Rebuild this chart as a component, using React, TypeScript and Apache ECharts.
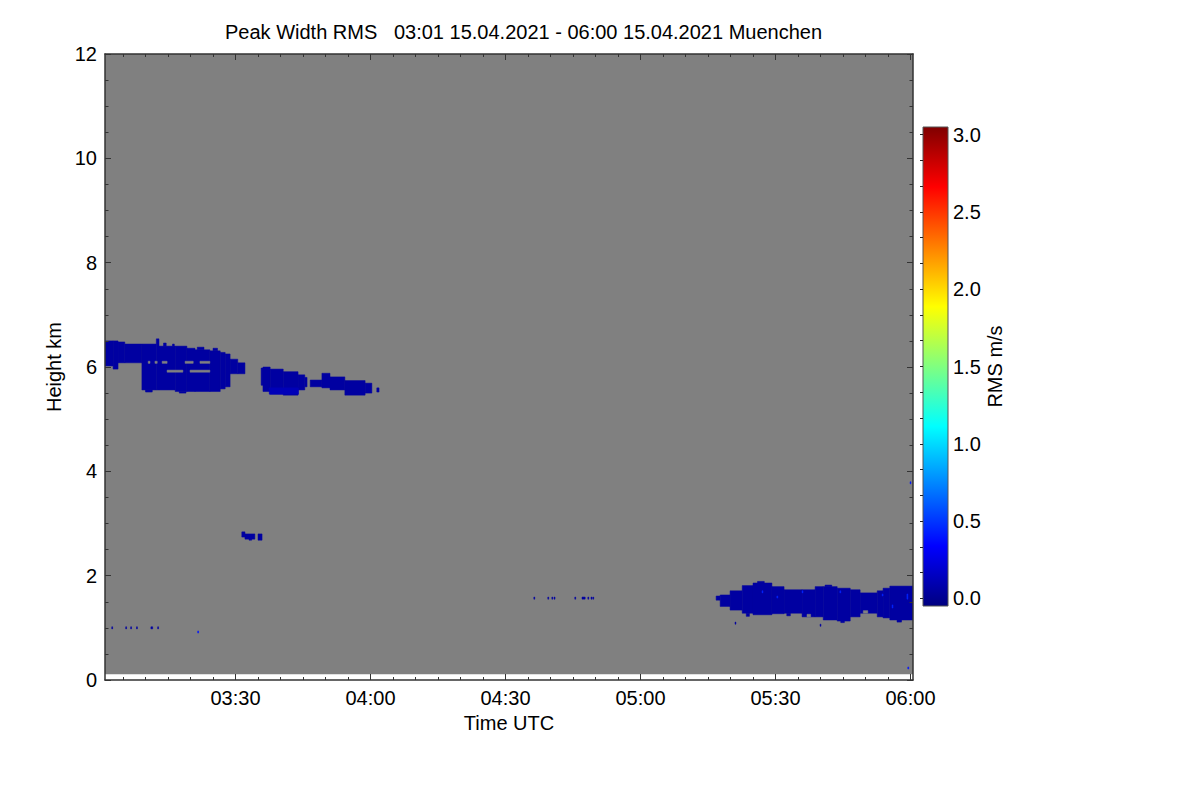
import React, { useEffect, useRef } from "react";
import * as echarts from "echarts";

// ---------- texts ----------
const chartTitle = "Peak Width RMS   03:01 15.04.2021 - 06:00 15.04.2021 Muenchen";
const xAxisTitle = "Time UTC";
const yAxisTitle = "Height km";
const colorbarTitle = "RMS m/s";

// ---------- axes (time in minutes since 00:00 UTC, height in km) ----------
const timeMin = 181; // 03:01
const timeMax = 360.55;
const timeMajorTicks = [210, 240, 270, 300, 330, 360];
const timeTickLabels = ["03:30", "04:00", "04:30", "05:00", "05:30", "06:00"];
const timeMinorTicks = [
  185, 190, 195, 200, 205, 215, 220, 225, 230, 235, 245, 250, 255, 260, 265,
  275, 280, 285, 290, 295, 305, 310, 315, 320, 325, 335, 340, 345, 350, 355,
];
const heightMin = 0;
const heightMax = 12;
const heightStep = 2;
const measuredBottom = 0.115;
const measuredTop = 12;

const rmsMin = -0.05;
const rmsMax = 3.05;
const rmsTicks = [0, 0.5, 1.0, 1.5, 2.0, 2.5, 3.0];
const rmsTickLabels = ["0.0", "0.5", "1.0", "1.5", "2.0", "2.5", "3.0"];
const rmsMinorTicks = [
  0.1667, 0.3333, 0.6667, 0.8333, 1.1667, 1.3333, 1.6667, 1.8333, 2.1667,
  2.3333, 2.6667, 2.8333,
];
const jetColors = [
  "#000080", "#0000ff", "#0080ff", "#00ffff", "#80ff80",
  "#ffff00", "#ff8000", "#ff0000", "#800000",
];

// ---------- data: [tStart, tEnd, heightBottom, heightTop, rms m/s] ----------
const cloudUpperLeft = [
  [181.0, 182.8, 6.02, 6.5, 0.05],
  [182.8, 183.9, 5.96, 6.5, 0.05],
  [183.9, 185.4, 6.08, 6.48, 0.05],
  [185.4, 189.2, 6.08, 6.44, 0.05],
  [189.2, 192.4, 5.56, 6.44, 0.05],
  [192.4, 193.0, 5.56, 6.54, 0.05],
  [193.0, 196.6, 5.56, 6.4, 0.05],
  [196.6, 199.2, 5.53, 6.4, 0.05],
  [199.2, 201.0, 5.53, 6.36, 0.05],
  [201.0, 204.3, 5.53, 6.33, 0.05],
  [204.3, 206.6, 5.53, 6.31, 0.05],
  [206.6, 207.7, 5.58, 6.28, 0.05],
  [207.7, 208.8, 5.62, 6.25, 0.05],
  [208.8, 210.5, 5.87, 6.15, 0.05],
  [210.5, 212.1, 5.87, 6.08, 0.05],
  [194.0, 194.6, 6.4, 6.46, 0.05],
  [196.0, 196.4, 6.4, 6.44, 0.05],
  [201.5, 203.0, 6.33, 6.38, 0.05],
  [205.0, 206.0, 6.31, 6.36, 0.05],
  [190.0, 191.5, 5.52, 5.56, 0.05],
  [197.5, 199.0, 5.5, 5.53, 0.05],
];
const cloudUpperMid = [
  [215.7, 216.1, 5.65, 5.98, 0.05],
  [216.1, 217.7, 5.53, 6.0, 0.05],
  [217.7, 220.6, 5.48, 5.96, 0.05],
  [220.6, 223.9, 5.46, 5.91, 0.05],
  [223.9, 225.4, 5.56, 5.85, 0.05],
  [225.4, 225.9, 5.62, 5.8, 0.05],
  [217.5, 224.0, 5.48, 5.6, 0.12],
];
const cloudUpperRight = [
  [226.6, 229.2, 5.62, 5.75, 0.05],
  [229.2, 231.0, 5.6, 5.88, 0.05],
  [231.0, 234.3, 5.56, 5.81, 0.05],
  [234.3, 238.8, 5.46, 5.74, 0.05],
  [238.8, 240.3, 5.5, 5.69, 0.05],
  [241.4, 241.9, 5.52, 5.6, 0.05],
];
const cloudSmall = [
  [211.4, 212.1, 2.74, 2.84, 0.05],
  [212.1, 214.3, 2.7, 2.8, 0.05],
  [213.0, 213.6, 2.68, 2.7, 0.05],
  [215.0, 215.9, 2.68, 2.8, 0.05],
];
const specksLow = [
  [182.5, 182.7, 0.98, 1.02, 0.05],
  [185.6, 185.8, 0.98, 1.02, 0.05],
  [186.7, 186.9, 0.98, 1.02, 0.05],
  [188.0, 188.2, 0.98, 1.02, 0.05],
  [191.2, 191.6, 0.98, 1.02, 0.05],
  [192.7, 192.9, 0.98, 1.02, 0.05],
  [201.6, 201.8, 0.9, 0.94, 0.4],
];
const specksMid = [
  [276.3, 276.5, 1.55, 1.59, 0.05],
  [279.4, 279.6, 1.55, 1.59, 0.05],
  [280.3, 280.5, 1.55, 1.59, 0.05],
  [280.8, 281.0, 1.55, 1.59, 0.05],
  [285.4, 285.6, 1.55, 1.59, 0.05],
  [287.0, 287.7, 1.55, 1.59, 0.05],
  [288.3, 288.5, 1.55, 1.59, 0.05],
  [289.0, 289.2, 1.55, 1.59, 0.05],
  [289.4, 289.6, 1.55, 1.59, 0.05],
];
const cloudLowRight = [
  [316.8, 317.7, 1.53, 1.61, 0.05],
  [317.7, 319.9, 1.41, 1.63, 0.05],
  [319.9, 322.6, 1.34, 1.71, 0.05],
  [322.6, 325.0, 1.28, 1.81, 0.05],
  [325.0, 329.2, 1.25, 1.86, 0.05],
  [329.2, 331.9, 1.27, 1.79, 0.05],
  [331.9, 335.9, 1.28, 1.73, 0.05],
  [335.9, 338.8, 1.21, 1.73, 0.05],
  [338.8, 340.6, 1.21, 1.79, 0.05],
  [340.6, 343.7, 1.15, 1.79, 0.05],
  [343.7, 346.6, 1.13, 1.76, 0.05],
  [346.6, 348.8, 1.21, 1.73, 0.05],
  [348.8, 352.6, 1.28, 1.67, 0.05],
  [352.6, 353.9, 1.21, 1.71, 0.05],
  [353.9, 355.4, 1.19, 1.76, 0.05],
  [355.4, 360.55, 1.15, 1.8, 0.05],
  [323.5, 324.2, 1.22, 1.28, 0.05],
  [332.5, 333.3, 1.23, 1.28, 0.05],
  [344.5, 345.3, 1.1, 1.13, 0.05],
  [357.0, 358.0, 1.11, 1.15, 0.05],
  [326.0, 327.5, 1.86, 1.89, 0.05],
  [341.0, 342.5, 1.79, 1.82, 0.05],
  [321.0, 321.2, 1.07, 1.11, 0.05],
  [339.9, 340.1, 1.03, 1.07, 0.05],
  [327.0, 327.2, 1.67, 1.71, 0.45],
  [335.9, 336.1, 1.67, 1.71, 0.45],
  [353.7, 353.9, 1.61, 1.65, 0.45],
  [355.9, 356.1, 1.38, 1.44, 0.45],
  [344.3, 344.5, 1.67, 1.71, 0.45],
  [330.3, 330.5, 1.57, 1.61, 0.45],
  [359.2, 359.4, 1.55, 1.65, 0.45],
  [359.4, 359.6, 0.21, 0.25, 0.4],
  [359.9, 360.1, 3.76, 3.8, 0.4],
];
// gaps (no signal) inside the clouds: [tStart, tEnd, hBottom, hTop]
const cloudGaps = [
  [190.6, 191.0, 6.07, 6.11],
  [192.1, 192.6, 6.07, 6.11],
  [193.7, 194.8, 6.07, 6.11],
  [198.8, 200.6, 6.07, 6.11],
  [202.1, 204.3, 6.07, 6.11],
  [194.8, 198.3, 5.9, 5.94],
  [199.9, 204.3, 5.9, 5.94],
  [337.0, 337.8, 1.21, 1.26],
  [349.5, 350.5, 1.28, 1.33],
];

const FONT = "'Liberation Sans', Arial, Helvetica, sans-serif";
const BG_GRAY = "#808080";
const AXIS_COLOR = "#333333";

function rectRenderer(fixedFill?: string) {
  return (params: any, api: any) => {
    const p0 = api.coord([api.value(0), api.value(3)]);
    const p1 = api.coord([api.value(1), api.value(2)]);
    const fill = fixedFill || api.visual("color");
    return {
      type: "rect",
      shape: { x: p0[0], y: p0[1], width: p1[0] - p0[0], height: p1[1] - p0[1] },
      style: { fill, stroke: fill, lineWidth: 0.5 },
    };
  };
}

function timeLabel(v: number) {
  const i = timeMajorTicks.indexOf(Math.round(v));
  return i >= 0 ? timeTickLabels[i] : "";
}
function rmsLabel(v: number) {
  let best = 0;
  rmsTicks.forEach((t, i) => {
    if (Math.abs(t - v) < Math.abs(rmsTicks[best] - v)) best = i;
  });
  return rmsTickLabels[best];
}

export default function App() {
  const ref = useRef<HTMLDivElement>(null);
  useEffect(() => {
    if (!ref.current) return;
    const chart = echarts.init(ref.current, null, { renderer: "svg" });
    const cells = [
      ...cloudUpperLeft,
      ...cloudUpperMid,
      ...cloudUpperRight,
      ...cloudSmall,
      ...specksLow,
      ...specksMid,
      ...cloudLowRight,
    ];
    const textBase = { fontFamily: FONT, fontSize: 20, color: "#000" };
    const tickStyle = { color: AXIS_COLOR, width: 1 };
    const option: any = {
      animation: false,
      backgroundColor: "#ffffff",
      textStyle: { fontFamily: FONT },
      title: {
        text: chartTitle,
        left: 225,
        top: 22,
        padding: 0,
        textStyle: { ...textBase, fontWeight: "normal" },
      },
      grid: [
        { left: 105, top: 54, width: 808, height: 626, containLabel: false },
        {
          left: 923,
          top: 127,
          width: 25,
          height: 479,
          show: true,
          backgroundColor: new echarts.graphic.LinearGradient(
            0, 1, 0, 0,
            jetColors.map((c, i) => ({ offset: i / (jetColors.length - 1), color: c }))
          ),
          borderColor: "#555",
          borderWidth: 1,
        },
      ],
      visualMap: {
        show: false,
        type: "continuous",
        seriesIndex: 1,
        dimension: 4,
        min: rmsMin,
        max: rmsMax,
        inRange: { color: jetColors },
      },
      xAxis: [
        {
          gridIndex: 0, type: "value", position: "bottom", min: timeMin, max: timeMax, z: 10,
          axisLine: { show: true, lineStyle: { color: AXIS_COLOR, width: 1.5 } },
          axisTick: { show: true, inside: true, length: 6, customValues: timeMajorTicks, lineStyle: tickStyle },
          axisLabel: { ...textBase, margin: 8, customValues: timeMajorTicks, formatter: timeLabel },
          splitLine: { show: false },
          name: xAxisTitle, nameLocation: "middle", nameGap: 27, nameTextStyle: textBase,
        },
        {
          gridIndex: 0, type: "value", position: "bottom", min: timeMin, max: timeMax, z: 10,
          axisLine: { show: false },
          axisTick: { show: true, inside: true, length: 3, customValues: timeMinorTicks, lineStyle: tickStyle },
          axisLabel: { show: false, customValues: timeMinorTicks },
          splitLine: { show: false },
        },
        {
          gridIndex: 0, type: "value", position: "top", min: timeMin, max: timeMax, z: 10,
          axisLine: { show: true, lineStyle: { color: AXIS_COLOR, width: 1.5 } },
          axisTick: { show: true, inside: true, length: 6, customValues: timeMajorTicks, lineStyle: tickStyle },
          axisLabel: { show: false, customValues: timeMajorTicks },
          splitLine: { show: false },
        },
        {
          gridIndex: 0, type: "value", position: "top", min: timeMin, max: timeMax, z: 10,
          axisLine: { show: false },
          axisTick: { show: true, inside: true, length: 3, customValues: timeMinorTicks, lineStyle: tickStyle },
          axisLabel: { show: false, customValues: timeMinorTicks },
          splitLine: { show: false },
        },
        { gridIndex: 1, type: "value", min: 0, max: 1, show: false },
      ],
      yAxis: [
        {
          gridIndex: 0, type: "value", position: "left", min: heightMin, max: heightMax, interval: heightStep, z: 10,
          axisLine: { show: true, lineStyle: { color: AXIS_COLOR, width: 1.5 } },
          axisTick: { show: true, inside: true, length: 6, lineStyle: tickStyle },
          minorTick: { show: true, splitNumber: 4, length: 3.5, lineStyle: tickStyle },
          axisLabel: { ...textBase, margin: 8 },
          splitLine: { show: false },
          minorSplitLine: { show: false },
          name: yAxisTitle, nameLocation: "middle", nameGap: 40, nameRotate: 90, nameTextStyle: textBase,
        },
        {
          gridIndex: 0, type: "value", position: "right", min: heightMin, max: heightMax, interval: heightStep, z: 10,
          axisLine: { show: true, lineStyle: { color: AXIS_COLOR, width: 1.5 } },
          axisTick: { show: true, inside: true, length: 6, lineStyle: tickStyle },
          minorTick: { show: true, splitNumber: 4, length: 3.5, lineStyle: tickStyle },
          axisLabel: { show: false },
          splitLine: { show: false },
        },
        {
          gridIndex: 1, type: "value", position: "right", min: rmsMin, max: rmsMax, z: 10,
          axisLine: { show: false },
          axisTick: { show: true, inside: true, length: 3, customValues: [...rmsTicks, ...rmsMinorTicks], lineStyle: { color: "#222", width: 1 } },
          axisLabel: { ...textBase, margin: 5, customValues: rmsTicks, formatter: rmsLabel },
          splitLine: { show: false },
          name: colorbarTitle, nameLocation: "middle", nameGap: 29, nameRotate: 90, nameTextStyle: textBase,
        },
      ],
      series: [
        {
          type: "custom",
          xAxisIndex: 0,
          yAxisIndex: 0,
          clip: true,
          silent: true,
          renderItem: rectRenderer(BG_GRAY),
          encode: { x: [0, 1], y: [2, 3] },
          data: [[timeMin, timeMax, measuredBottom, measuredTop]],
        },
        {
          type: "custom",
          xAxisIndex: 0,
          yAxisIndex: 0,
          clip: true,
          silent: true,
          renderItem: rectRenderer(),
          encode: { x: [0, 1], y: [2, 3] },
          data: cells,
        },
        {
          type: "custom",
          xAxisIndex: 0,
          yAxisIndex: 0,
          clip: true,
          silent: true,
          renderItem: rectRenderer(BG_GRAY),
          encode: { x: [0, 1], y: [2, 3] },
          data: cloudGaps,
        },
      ],
    };
    chart.setOption(option);
    return () => chart.dispose();
  }, []);
  return (
    <div
      ref={ref}
      style={{ position: "fixed", left: 0, top: 0, width: 1200, height: 800, background: "#fff" }}
    />
  );
}
